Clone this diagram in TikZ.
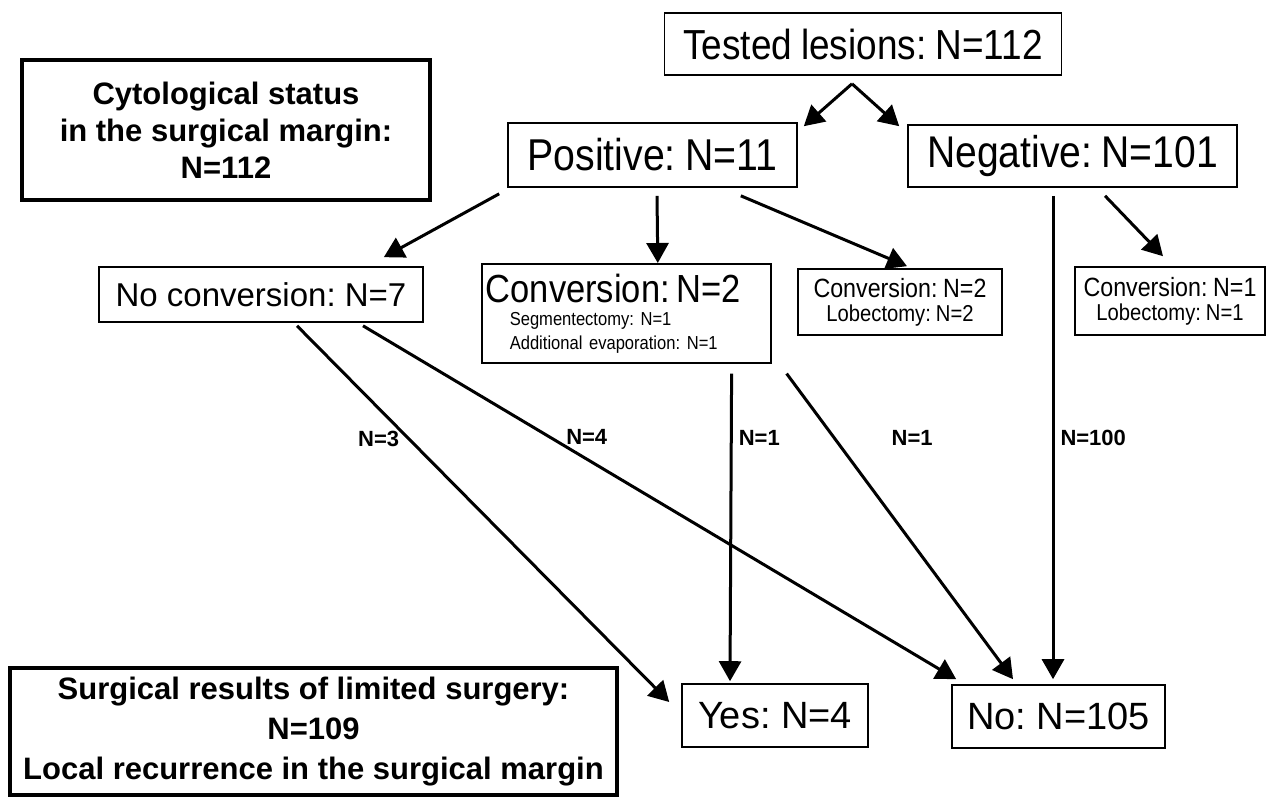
\documentclass[tikz,border=0pt]{standalone}
\usepackage{fontspec}
\setmainfont{Liberation Sans}
\newfontfamily\narrowsf[FakeStretch=0.88, WordSpace=0.88]{Liberation Sans}
\usetikzlibrary{arrows.meta, positioning, calc}
\frenchspacing

\begin{document}
\begin{tikzpicture}[
  x=0.5pt, y=-0.5pt,
  box/.style={draw, line width=0.8pt, inner sep=0pt, align=center},
  heavybox/.style={draw, line width=2pt, inner sep=0pt, align=center},
  lab/.style={font=\fontsize{11}{13}\selectfont\bfseries, inner sep=3pt},
  arr/.style={-{Triangle[length=10pt,width=11pt]}, line width=1.5pt}
]
  \useasboundingbox (0,0) rectangle (1268,797);

  % legend boxes
  \node[heavybox, minimum width=204pt, minimum height=70pt,
        font=\fontsize{15.5}{18.5}\selectfont\bfseries] (cyto) at (226,130)
        {Cytological status\\in the surgical margin:\\N=112};
  \node[heavybox, minimum width=303.5pt, minimum height=63.5pt,
        font=\fontsize{15.5}{20}\selectfont\bfseries] (surg) at (313.5,731.5)
        {Surgical results of limited surgery:\\N=109\\Local recurrence in the surgical margin};

  % tree
  \node[box, minimum width=198.5pt, minimum height=31pt,
        font=\narrowsf\fontsize{21}{24}\selectfont] (tested) at (863,44) {Tested lesions: N=112};
  \node[box, minimum width=144.5pt, minimum height=32pt,
        font=\narrowsf\fontsize{22.3}{25}\selectfont] (pos) at (652.5,155) {Positive: N=11};
  \node[box, minimum width=164.5pt, minimum height=31pt,
        font=\narrowsf\fontsize{22.2}{25}\selectfont] (neg) at (1072.5,156) {Negative: N=101};

  \node[box, minimum width=162pt, minimum height=27.5pt,
        font=\fontsize{16.5}{19}\selectfont] (noconv) at (261,294.5) {No conversion: N=7};
  \node[box, anchor=north west, text width=140.5pt, inner xsep=2pt, inner ysep=2pt,
        minimum height=49.5pt, align=left, font=\narrowsf] (conv) at (481,263)
        {\fontsize{19.6}{21}\selectfont Conversion: N=2\\[1pt]
         \hspace*{12pt}\fontsize{9.4}{10.5}\selectfont Segmentectomy: N=1\\
         \hspace*{12pt}\fontsize{9.4}{10.5}\selectfont Additional evaporation: N=1};
  \node[box, minimum width=102pt, minimum height=33pt,
        font=\narrowsf] (lobe2) at (900,302)
        {\fontsize{13.2}{15}\selectfont Conversion: N=2\\\fontsize{11.5}{13}\selectfont Lobectomy: N=2};
  \node[box, minimum width=95pt, minimum height=34pt,
        font=\narrowsf] (lobe1) at (1170,301)
        {\fontsize{13.2}{15}\selectfont Conversion: N=1\\\fontsize{11.5}{13}\selectfont Lobectomy: N=1};

  \node[box, minimum width=93pt, minimum height=31.5pt,
        font=\fontsize{19}{22}\selectfont] (yes) at (775,715.5) {Yes: N=4};
  \node[box, minimum width=106.5pt, minimum height=31.5pt,
        font=\fontsize{19}{22}\selectfont] (no) at (1058.5,716.5) {No: N=105};

  % arrows
  \draw[arr] ([shift={(-11,8)}]tested.south) -- ([shift={(6,4)}]pos.north east);
  \draw[arr] ([shift={(-11,8)}]tested.south) -- ([shift={(-8,2)}]neg.north west);
  \draw[arr] ([shift={(-8,6)}]pos.south west) -- ([shift={(-40,-9)}]noconv.north east);
  \draw[arr] ([shift={(4.5,8)}]pos.south) -- ([shift={(31.5,0)}]conv.north);
  \draw[arr] ([shift={(-57,8)}]pos.south east) -- ([shift={(7,-2)}]lobe2.north);
  \draw[arr] ([shift={(32.5,8)}]neg.south) -- ([shift={(-7,-10)}]lobe1.north);

  \draw[arr] ([shift={(36,3)}]noconv.south) -- node[lab, pos=0.3, left, inner sep=4pt] {N=3} ([shift={(-12,-13.5)}]yes.west);
  \draw[arr] ([shift={(102,3)}]noconv.south) -- node[lab, pos=0.33, above right, inner sep=0pt, yshift=-2pt, xshift=3pt] {N=4} ([shift={(5,-5)}]no.north west);
  \draw[arr] ([shift={(-40,10)}]conv.south east) -- node[lab, pos=0.21, right] {N=1} ([shift={(-45,-2)}]yes.north);
  \draw[arr] ([shift={(15,10)}]conv.south east) -- node[lab, pos=0.21, right, xshift=25pt] {N=1} ([shift={(-45.5,-5)}]no.north);
  \draw[arr] ([shift={(-19.5,8)}]neg.south) -- node[lab, pos=0.5, right] {N=100} ([shift={(-5.5,-5)}]no.north);
\end{tikzpicture}
\end{document}
